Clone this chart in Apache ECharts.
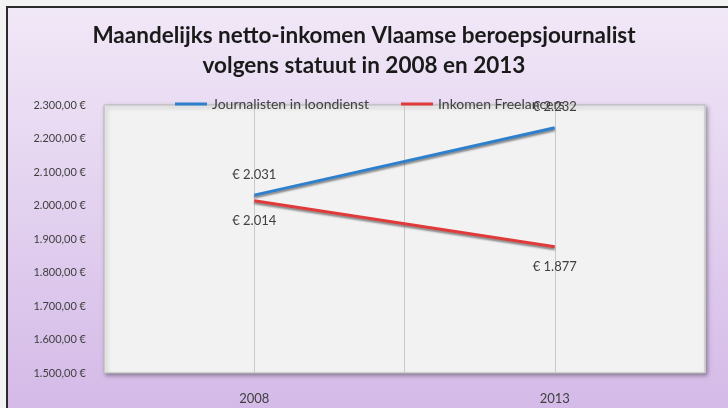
<!DOCTYPE html>
<html><head><meta charset="utf-8">
<script src="https://cdn.jsdelivr.net/npm/echarts@6/dist/echarts.min.js"></script>
<style>html,body{margin:0;padding:0;background:#f3f3f3;}#c{width:728px;height:408px;}</style>
</head><body><div id="c"></div>
<script>
var titleText = 'Maandelijks netto-inkomen Vlaamse beroepsjournalist\nvolgens statuut in 2008 en 2013';
var categories = ['2008', '2013'];
var seriesNames = ['Journalisten in loondienst', 'Inkomen Freelancers'];
var loondienst = [2031, 2232];
var freelancers = [2014, 1877];
var yTicks = [1500, 1600, 1700, 1800, 1900, 2000, 2100, 2200, 2300];

function fmtAxis(v){
  var s = String(Math.round(v));
  if (s.length > 3) s = s.slice(0, s.length-3) + '.' + s.slice(s.length-3);
  return s + ',00 €';
}
function fmtLabel(v){
  var s = String(v);
  if (s.length > 3) s = s.slice(0, s.length-3) + '.' + s.slice(s.length-3);
  return '€ ' + s;
}
// category i is placed at x = 2*i+1 on a 0..4 value scale (centres of two slots)
function toPts(arr){ return arr.map(function(v,i){ return [2*i+1, v]; }); }

var chart = echarts.init(document.getElementById('c'), null, {renderer:'canvas'});
var font = 'Lato, "Open Sans", sans-serif';
chart.setOption({
  animation:false,
  textStyle:{fontFamily:font},
  graphic:[{
    type:'rect', z:-10, silent:true,
    shape:{x:7, y:7, width:740, height:420},
    style:{
      fill:new echarts.graphic.LinearGradient(0,0,0,1,[{offset:0,color:'#f1e8f7'},{offset:1,color:'#d3b8e7'}]),
      stroke:'#2b2b2b', lineWidth:2
    }
  }],
  title:{
    text:titleText, left:'center', top:16,
    textStyle:{fontFamily:font, fontSize:22.5, fontWeight:'bold', color:'#1a1a1a', lineHeight:30}
  },
  legend:{
    data:seriesNames, left:175, top:97, padding:0, itemGap:32, itemWidth:32, itemHeight:3, icon:'rect',
    textStyle:{fontFamily:font, fontSize:14, color:'#404040'}
  },
  grid:{
    left:104, right:23, top:105, bottom:35, show:true,
    backgroundColor:'#f2f2f2', borderColor:'#b8b8b8', borderWidth:1,
    shadowColor:'rgba(0,0,0,0.35)', shadowBlur:4, shadowOffsetX:2, shadowOffsetY:2
  },
  xAxis:{
    type:'value', min:0, max:4, interval:1,
    axisLine:{show:false}, axisTick:{show:false},
    splitLine:{show:true, lineStyle:{color:'#c9c9c9', width:1}},
    axisLabel:{
      color:'#404040', fontSize:13, margin:19,
      formatter:function(v){ return (v % 2 === 1) ? categories[(v-1)/2] : ''; }
    }
  },
  yAxis:{
    type:'value', min:yTicks[0], max:yTicks[yTicks.length-1], interval:100,
    axisLine:{show:false}, axisTick:{show:false}, splitLine:{show:false},
    axisLabel:{color:'#404040', fontSize:11, margin:18, formatter:fmtAxis}
  },
  series:[
    {
      name:seriesNames[0], type:'line', data:toPts(loondienst),
      symbol:'circle', symbolSize:0, itemStyle:{color:'#2f80cc'},
      lineStyle:{color:'#2f80cc', width:3, shadowColor:'rgba(0,0,0,0.45)', shadowBlur:2, shadowOffsetY:2},
      label:{show:true, position:'top', distance:14, color:'#404040', fontSize:13, fontFamily:font,
        formatter:function(p){ return fmtLabel(p.value[1]); }}
    },
    {
      name:seriesNames[1], type:'line', data:toPts(freelancers),
      symbol:'circle', symbolSize:0, itemStyle:{color:'#e03a3a'},
      lineStyle:{color:'#e03a3a', width:3, shadowColor:'rgba(0,0,0,0.45)', shadowBlur:2, shadowOffsetY:2},
      label:{show:true, position:'bottom', distance:14, color:'#404040', fontSize:13, fontFamily:font,
        formatter:function(p){ return fmtLabel(p.value[1]); }}
    }
  ]
});
</script></body></html>
